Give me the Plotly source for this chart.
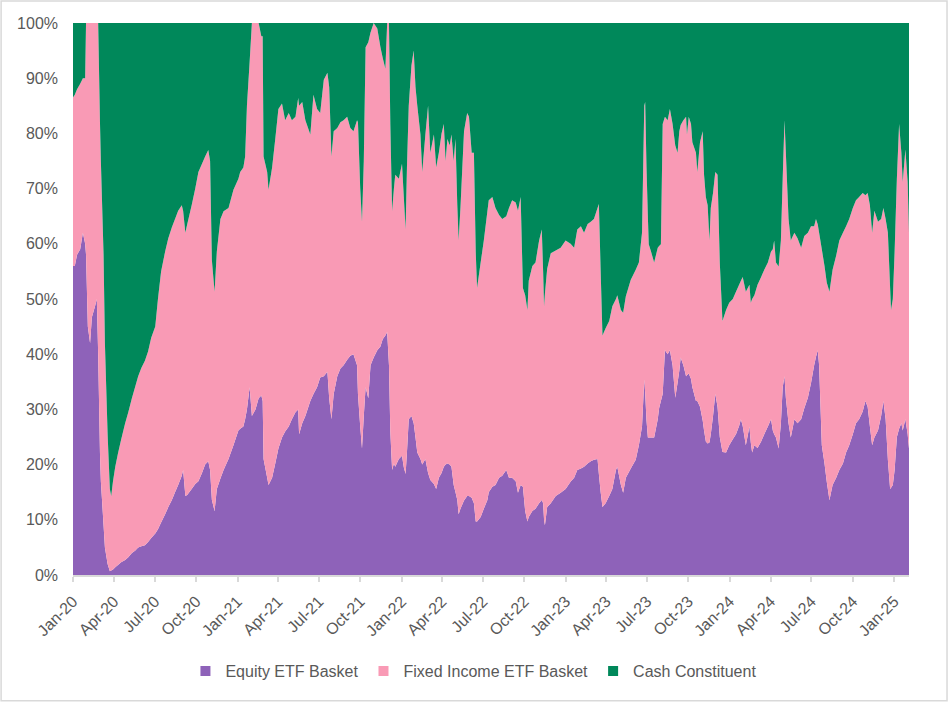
import plotly.graph_objects as go

# daily share of the portfolio (%) at ~weekly steps
dates = [
    "2020-01-01", "2020-01-05", "2020-01-10", "2020-01-17", "2020-01-23", "2020-01-28", "2020-01-30",
    "2020-02-03", "2020-02-08", "2020-02-12", "2020-02-19", "2020-02-23", "2020-02-26",
    "2020-03-01", "2020-03-03", "2020-03-09", "2020-03-12", "2020-03-18", "2020-03-23", "2020-03-26", "2020-03-30",
    "2020-04-04", "2020-04-10", "2020-04-17", "2020-04-26",
    "2020-05-03", "2020-05-11", "2020-05-18", "2020-05-25",
    "2020-06-01", "2020-06-09", "2020-06-16", "2020-06-23",
    "2020-07-02", "2020-07-08", "2020-07-15", "2020-07-24", "2020-07-31",
    "2020-08-08", "2020-08-15", "2020-08-22", "2020-08-30",
    "2020-09-02", "2020-09-07", "2020-09-11", "2020-09-21", "2020-09-29",
    "2020-10-06", "2020-10-14", "2020-10-21", "2020-10-28",
    "2020-11-01", "2020-11-05", "2020-11-11", "2020-11-16", "2020-11-24",
    "2020-12-01", "2020-12-12", "2020-12-23",
    "2021-01-03", "2021-01-07", "2021-01-14", "2021-01-18", "2021-01-22", "2021-01-28",
    "2021-02-02", "2021-02-10", "2021-02-17", "2021-02-23", "2021-02-26", "2021-02-28",
    "2021-03-08", "2021-03-11", "2021-03-19", "2021-03-26",
    "2021-04-02", "2021-04-10", "2021-04-17", "2021-04-25",
    "2021-05-02", "2021-05-10", "2021-05-16", "2021-05-18", "2021-05-25",
    "2021-06-01", "2021-06-12", "2021-06-19", "2021-06-27",
    "2021-07-04", "2021-07-12", "2021-07-20", "2021-07-24", "2021-07-29",
    "2021-08-03", "2021-08-11", "2021-08-18", "2021-08-25",
    "2021-09-02", "2021-09-09", "2021-09-16", "2021-09-24", "2021-09-26",
    "2021-10-01", "2021-10-05", "2021-10-09", "2021-10-13", "2021-10-19", "2021-10-24", "2021-10-31",
    "2021-11-08", "2021-11-15", "2021-11-20", "2021-11-26", "2021-11-30",
    "2021-12-04", "2021-12-07", "2021-12-11", "2021-12-15", "2021-12-18", "2021-12-26",
    "2022-01-02", "2022-01-06", "2022-01-10", "2022-01-13", "2022-01-17", "2022-01-23", "2022-01-28",
    "2022-02-01", "2022-02-05", "2022-02-12", "2022-02-16", "2022-02-23",
    "2022-03-01", "2022-03-06", "2022-03-14", "2022-03-19", "2022-03-25", "2022-03-31",
    "2022-04-05", "2022-04-09", "2022-04-13", "2022-04-18", "2022-04-22", "2022-04-27",
    "2022-05-01", "2022-05-05", "2022-05-08", "2022-05-12", "2022-05-20", "2022-05-27", "2022-05-31",
    "2022-06-06", "2022-06-11", "2022-06-15", "2022-06-18", "2022-06-26",
    "2022-07-03", "2022-07-11", "2022-07-14", "2022-07-22", "2022-07-29",
    "2022-08-06", "2022-08-13", "2022-08-22", "2022-08-28",
    "2022-09-04", "2022-09-12", "2022-09-17", "2022-09-23", "2022-09-28",
    "2022-10-03", "2022-10-08", "2022-10-11", "2022-10-19", "2022-10-26",
    "2022-11-03", "2022-11-09", "2022-11-12", "2022-11-14", "2022-11-16", "2022-11-21", "2022-11-29",
    "2022-12-10", "2022-12-21",
    "2023-01-01", "2023-01-12", "2023-01-20", "2023-01-27",
    "2023-02-04", "2023-02-11", "2023-02-19", "2023-02-26",
    "2023-03-05", "2023-03-13", "2023-03-16", "2023-03-20", "2023-03-24", "2023-03-31",
    "2023-04-08", "2023-04-15", "2023-04-23", "2023-04-26",
    "2023-05-04", "2023-05-09", "2023-05-15", "2023-05-26",
    "2023-06-06", "2023-06-13", "2023-06-20", "2023-06-25", "2023-06-27", "2023-06-30",
    "2023-07-03", "2023-07-05", "2023-07-10", "2023-07-17", "2023-07-25", "2023-07-28",
    "2023-08-01", "2023-08-05", "2023-08-10", "2023-08-16", "2023-08-21", "2023-08-27",
    "2023-09-02", "2023-09-07", "2023-09-11", "2023-09-14", "2023-09-20", "2023-09-26", "2023-09-28",
    "2023-10-02", "2023-10-07", "2023-10-10", "2023-10-18", "2023-10-21", "2023-10-27",
    "2023-11-02", "2023-11-05", "2023-11-09", "2023-11-13", "2023-11-17", "2023-11-20", "2023-11-25", "2023-11-30",
    "2023-12-05", "2023-12-10", "2023-12-16", "2023-12-24", "2023-12-31",
    "2024-01-08", "2024-01-15", "2024-01-22", "2024-01-26", "2024-01-30",
    "2024-02-06", "2024-02-14", "2024-02-17", "2024-02-20", "2024-02-25",
    "2024-03-03", "2024-03-11", "2024-03-18", "2024-03-26",
    "2024-04-02", "2024-04-06", "2024-04-09", "2024-04-13", "2024-04-19", "2024-04-24", "2024-04-28",
    "2024-05-02", "2024-05-05", "2024-05-11", "2024-05-16", "2024-05-24", "2024-05-31",
    "2024-06-08", "2024-06-15", "2024-06-23", "2024-06-30",
    "2024-07-07", "2024-07-11", "2024-07-15", "2024-07-18", "2024-07-24", "2024-07-30",
    "2024-08-04", "2024-08-10", "2024-08-17", "2024-08-25",
    "2024-09-01", "2024-09-09", "2024-09-16", "2024-09-23",
    "2024-10-01", "2024-10-08", "2024-10-15", "2024-10-23", "2024-10-29",
    "2024-11-03", "2024-11-08", "2024-11-13", "2024-11-18", "2024-11-26",
    "2024-12-03", "2024-12-08", "2024-12-13", "2024-12-18", "2024-12-23", "2024-12-25", "2024-12-29",
    "2025-01-02", "2025-01-07", "2025-01-12", "2025-01-17", "2025-01-20", "2025-01-26", "2025-01-31",
    "2025-02-03",
]

equity = [
    56, 56, 58, 59, 62, 60, 58,
    45, 42, 46.7, 48.7, 50, 40,
    22, 17, 9, 5, 2, 0.7, 0.8, 1,
    1.4, 1.8, 2.3, 2.7,
    3.2, 4, 4.4, 5,
    5.2, 5.4, 6, 6.7,
    7.5, 8.3, 9.5, 11, 12.3,
    13.6, 15, 16.3, 18,
    19, 14.3, 14.5, 15.6, 16.5,
    17, 18.5, 20, 20.6,
    19, 13.6, 11.6, 15.6, 17.5,
    19, 21, 23.5,
    26.2, 26.5, 26.9, 28.2, 30, 34,
    28.8, 30, 32, 32.5, 31.5, 21,
    17.6, 16.3, 17.6, 20.2,
    22.9, 24.9, 26, 26.9,
    28.2, 29.5, 30, 25.5, 27.5,
    28.8, 31.5, 32.8, 34,
    35.8, 36, 36.8, 32, 28.2,
    32.8, 36, 37.4, 38,
    39, 39.7, 40, 38, 32.8,
    26.9, 22.9, 28.8, 34, 32, 38, 39.4,
    40.7, 41.4, 42.7, 43.4, 44,
    38, 26, 19, 20.2, 19.6, 21,
    21.6, 19.5, 18.3, 22.2, 28.2, 28.8, 27.5,
    24.9, 22.2, 21, 20, 21,
    18.5, 17.2, 16.5, 15.6, 17.6, 18.5,
    19.6, 20, 20.2, 20, 19.6, 16.3,
    15, 13.6, 11, 12, 13.5, 14.3, 14.3,
    14, 13, 9.7, 9.7, 10.5,
    12, 13.6, 15, 16, 16.3,
    17.6, 18, 19, 17.6,
    17.6, 17, 14.9, 16.3, 16,
    11.6, 9.7, 10.5, 11.6, 12,
    13, 13.6, 13, 10, 9, 12.3, 13,
    14.3, 14.9,
    15.6, 16.9, 17.6, 19,
    19.3, 19.6, 20.2, 20.6,
    20.9, 21, 18.3, 15, 12.3, 13,
    14.3, 15.6, 19, 19.6,
    16.3, 14.9, 17.6, 19.3,
    20.9, 23.5, 26.9, 35.4, 33, 28,
    24.9, 24.9, 24.9, 24.9, 28.2, 30.2,
    31.5, 32.8, 40.7, 40, 40.7, 38,
    32.1, 34.8, 37, 39.4, 38, 36, 36.2,
    36.5, 35.5, 34, 31.5, 31.5, 30.5,
    28, 26.2, 24.2, 23.8, 24, 25.5, 28.8, 32.8,
    30.5, 25, 22.3, 22.2, 23.5,
    24.6, 25.5, 27, 28.2, 27,
    23.5, 26.9, 24, 22.2, 23.5,
    23, 24.2, 25.5, 26.9,
    28.2, 26.2, 25.5, 24.9, 22.9, 27.5, 34,
    36, 32.1, 27.5, 24.9, 28.2, 27.5,
    28.2, 30.2, 32.1, 34.8,
    38, 39.5, 40.7, 38, 23.5, 20.2,
    16.9, 13.6, 16.3, 17.6,
    19, 20.2, 22.2, 23.5,
    25.5, 27.5, 28.2, 29.6, 31.5,
    30.5, 26.9, 23.5, 24.9, 26.2,
    28.8, 31.5, 28.2, 20.9, 15.6, 15.8, 16.3,
    19, 25, 26.5, 27.5, 26.2, 28.2, 25.5,
    22.9,
]

cash = [
    13.5, 13, 12, 11, 10, 10, 0,
    0, 0, 0, 0, 0, 0,
    18, 25, 42, 58, 74.5, 84.4, 85.7, 83,
    80.4, 78, 75.5, 72.5,
    70.5, 68, 66, 64,
    62.5, 61.2, 59.5, 57,
    55, 50, 45, 41.4, 39,
    37, 35.5, 34, 33,
    34, 38, 36.5, 33, 30,
    27, 25.5, 24.2, 23,
    25, 43, 48.7, 41.4, 35.5,
    34.1, 33.5, 30.2,
    28.2, 27, 26.2, 24.2, 15, 7,
    0, 0, 0, 2.4, 2.4, 24.2,
    27, 30.2, 26.2, 21,
    15.6, 14.6, 17.6, 16.3,
    17.6, 17, 13.6, 15, 14.3,
    17.6, 20.2, 13, 15.6,
    16.3, 10.3, 9, 11.6, 24.2,
    19.6, 19, 18, 17.6,
    17, 19, 19.6, 17.6, 18,
    30, 36, 25, 4.4, 3.5, 1.7, 0,
    1, 4.4, 6.3, 8.3, 0,
    0, 18.3, 34.1, 30, 27.5, 28.2,
    25.5, 31.5, 37.4, 26.2, 15, 7.7, 5,
    11.6, 15, 20.2, 27, 20.2,
    15, 23.5, 20.2, 26.2, 23.5, 20,
    18.3, 25, 21, 22.2, 20.2, 25,
    21, 33, 39.4, 33.5, 19.6, 16.3, 17,
    23.5, 23.5, 41.4, 48, 43.4,
    39.4, 34.1, 32.1, 31.5, 33.5,
    34.8, 35.5, 35, 33.5,
    32.1, 32.5, 34, 31.5, 48,
    49.3, 52, 46.7, 44, 43.4,
    39.4, 37.4, 45, 51.3, 49, 44.5, 41.7,
    41.2, 40.7,
    39.4, 40, 40.7, 37.4,
    36.8, 38, 36.4, 36,
    35.5, 33.5, 32.8, 45, 56.6, 55.3,
    54, 51.3, 50, 49.3,
    52, 52.5, 49.5, 46.5,
    44.7, 43.4, 38, 15, 14.3, 26.2,
    35, 40.1, 41.4, 43.4, 40.7, 40.4,
    40.1, 18.3, 17, 17.6, 15.6, 18.3,
    22.2, 23.5, 19.6, 18.5, 17.6, 17, 20.2,
    17, 18.3, 21.6, 23.5, 27, 21.6,
    19.6, 27.5, 31.5, 33, 39.4, 33.5, 30.8, 27,
    27.5, 43.4, 54, 52, 50.7,
    50, 48.7, 47.4, 46.7, 46,
    48.7, 47.4, 50.7, 50, 49.3,
    47.4, 46, 44.7, 43.4,
    41.4, 41, 39.4, 43.4, 44.1, 39.4, 28.2,
    17.6, 23.5, 35.5, 39.4, 38, 39,
    40.7, 38.6, 38, 36.8,
    36.8, 35.5, 36.5, 38, 41, 44,
    47, 48.7, 44.7, 42.1,
    39.4, 38, 36.8, 35.5,
    33.5, 32.1, 31.5, 30.8, 31.2,
    30.8, 33, 38, 34, 36,
    35.5, 33.5, 35.5, 38, 48, 52, 50,
    41.4, 28.2, 18.3, 23.5, 28.8, 22.9, 28.8,
    38,
]

# fixed income is the remainder of the 100% allocation
fixed_income = [round(100 - e - c, 1) for e, c in zip(equity, cash)]

series = [
    ("Equity ETF Basket", equity, "#8E62B9"),
    ("Fixed Income ETF Basket", fixed_income, "#F99AB5"),
    ("Cash Constituent", cash, "#00885A"),
]

fig = go.Figure()
for name, vals, color in series:
    fig.add_trace(go.Scatter(
        x=dates, y=vals, name=name, mode="none", stackgroup="one",
        fillcolor=color, showlegend=False,
        hovertemplate=name + ": %{y:.1f}%<extra></extra>",
    ))

# square legend keys like the original
for name, vals, color in series:
    fig.add_trace(go.Scatter(
        x=[None], y=[None], mode="markers", name=name,
        marker=dict(symbol="square", size=10, color=color),
    ))

grey = "#595959"
fig.update_layout(
    width=949, height=703,
    margin=dict(l=73, r=40, t=23, b=128),
    paper_bgcolor="white", plot_bgcolor="white",
    font=dict(family="Liberation Sans, Arial, sans-serif", size=16, color=grey),
    legend=dict(
        orientation="h", x=0.479, xanchor="center", y=-0.174, yanchor="middle",
        traceorder="normal", font=dict(size=16, color=grey), itemclick=False,
    ),
    shapes=[dict(
        type="rect", xref="paper", yref="paper",
        x0=-0.086, x1=1.0455, y0=-0.228, y1=1.040,
        line=dict(color="#D9D9D9", width=1.5), fillcolor="rgba(0,0,0,0)", layer="below",
    )],
)
fig.update_xaxes(
    type="date", range=["2020-01-01", "2025-02-03"], automargin=False,
    tick0="2020-01-01", dtick="M3", tickformat="%b-%y", tickangle=-45,
    showgrid=False, zeroline=False,
    showline=True, linecolor="#D9D9D9", linewidth=1.5,
    ticks="outside", ticklen=5, tickcolor="#D9D9D9", tickwidth=1.5,
    ticklabelstandoff=4,
    tickfont=dict(size=16, color=grey),
)
fig.update_yaxes(
    range=[0, 100], dtick=10, ticksuffix="%", automargin=False,
    showgrid=False, zeroline=False, showline=False,
    ticklabelstandoff=14,
    tickfont=dict(size=16, color=grey),
)

# drop the default page margin so the figure sits at the window corner
fig.write_html(
    "out.html",
    config={"displayModeBar": False},
    post_script="document.body.style.margin='0';",
)
